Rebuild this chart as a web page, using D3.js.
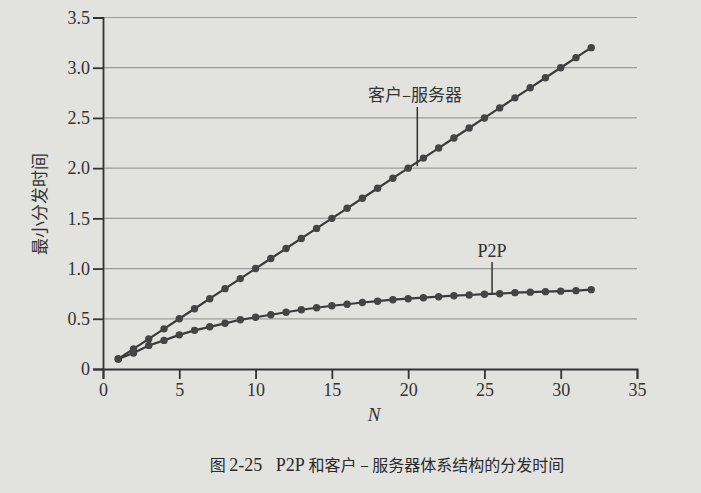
<!DOCTYPE html>
<html><head><meta charset="utf-8">
<script src="https://cdn.jsdelivr.net/npm/d3@7"></script>
<style>
html,body{margin:0;padding:0;background:#e2e2df;}
svg{display:block;}
</style></head>
<body>
<svg id="c" width="701" height="493"></svg>
<script>
const nValues = [1,2,3,4,5,6,7,8,9,10,11,12,13,14,15,16,17,18,19,20,21,22,23,24,25,26,27,28,29,30,31,32];
const clientServer = [0.1,0.2,0.3,0.4,0.5,0.6,0.7,0.8,0.9,1.0,1.1,1.2,1.3,1.4,1.5,1.6,1.7,1.8,1.9,2.0,2.1,2.2,2.3,2.4,2.5,2.6,2.7,2.8,2.9,3.0,3.1,3.2];
const p2p = [0.1,0.16,0.235,0.285,0.34,0.385,0.42,0.455,0.49,0.515,0.54,0.565,0.59,0.61,0.63,0.645,0.662,0.675,0.69,0.70,0.71,0.72,0.73,0.737,0.745,0.75,0.76,0.765,0.77,0.775,0.78,0.79];
const xTicks = [0,5,10,15,20,25,30,35];
const yTicks = [0,0.5,1.0,1.5,2.0,2.5,3.0,3.5];
const yLabel = "最小分发时间";
const xLabel = "N";
const csLabel = "客户–服务器";
const p2pLabel = "P2P";
const captionParts = [["图 ","cjk"],["2-25","serif"],["   P2P ","serif"],["和客户 – 服务器体系结构的分发时间","cjk"]];

const svg = d3.select("#c");
const ink = "#333";
const x = d3.scaleLinear().domain([0,35]).range([103,637]);
const y = d3.scaleLinear().domain([0,3.5]).range([369,17.5]);
const serif = "Liberation Serif, DejaVu Serif, serif";
const cjk = "Noto Sans CJK SC, sans-serif";

// grid
svg.append("g").selectAll("line").data(yTicks.filter(d=>d>0)).join("line")
  .attr("x1",x(0)).attr("x2",x(35)).attr("y1",d=>y(d)).attr("y2",d=>y(d))
  .attr("stroke","#9c9c9a").attr("stroke-width",1.2);

// axes
const xa = svg.append("g").attr("transform",`translate(0,${y(0)})`)
  .call(d3.axisBottom(x).tickValues(xTicks).tickSize(10).tickPadding(4).tickFormat(d3.format("d")));
const ya = svg.append("g").attr("transform",`translate(${x(0)},0)`)
  .call(d3.axisLeft(y).tickValues(yTicks).tickSize(10).tickPadding(3).tickFormat(d=>d===0?"0":d3.format(".1f")(d)));
[xa,ya].forEach(a=>{
  a.attr("font-family",serif).attr("font-size",18);
  a.select(".domain").attr("stroke",ink).attr("stroke-width",1.8);
  a.selectAll(".tick line").attr("stroke",ink).attr("stroke-width",1.8);
  a.selectAll(".tick text").attr("fill",ink).attr("font-family",serif).attr("font-size",18);
});

// lines
const line = d3.line().x((d,i)=>x(nValues[i])).y(d=>y(d));
[clientServer,p2p].forEach(s=>{
  svg.append("path").datum(s).attr("d",line).attr("fill","none")
    .attr("stroke","#3a3a3a").attr("stroke-width",2.2);
  svg.append("g").selectAll("circle").data(s).join("circle")
    .attr("cx",(d,i)=>x(nValues[i])).attr("cy",d=>y(d)).attr("r",3.7)
    .attr("fill","#444");
});

// annotations
svg.append("line").attr("x1",x(20.6)).attr("x2",x(20.6)).attr("y1",107).attr("y2",y(clientServer[19])-2)
  .attr("stroke",ink).attr("stroke-width",1.5);
svg.append("text").attr("x",415).attr("y",101).attr("text-anchor","middle")
  .attr("fill",ink).attr("font-family",cjk).attr("font-size",17).text(csLabel);
svg.append("line").attr("x1",x(25.5)).attr("x2",x(25.5)).attr("y1",262).attr("y2",y(p2p[24])-1)
  .attr("stroke",ink).attr("stroke-width",1.5);
svg.append("text").attr("x",x(25.5)).attr("y",257).attr("text-anchor","middle")
  .attr("fill",ink).attr("font-family",serif).attr("font-size",18).text(p2pLabel);

// axis titles
svg.append("text").attr("transform","translate(41,204) rotate(-90)").attr("text-anchor","middle")
  .attr("dominant-baseline","middle").attr("fill",ink).attr("font-family",cjk).attr("font-size",17).text(yLabel);
svg.append("text").attr("x",374).attr("y",421).attr("text-anchor","middle")
  .attr("fill",ink).attr("font-family",serif).attr("font-style","italic").attr("font-size",19).text(xLabel);

// caption
const cap = svg.append("text").attr("x",387).attr("y",471).attr("text-anchor","middle")
  .attr("fill","#2a2a2a").attr("font-size",17).style("white-space","pre");
cap.selectAll("tspan").data(captionParts).join("tspan")
  .attr("font-family",d=>d[1]==="cjk"?cjk:serif)
  .attr("font-size",d=>d[1]==="cjk"?16:18)
  .text(d=>d[0]);
</script>
</body></html>
